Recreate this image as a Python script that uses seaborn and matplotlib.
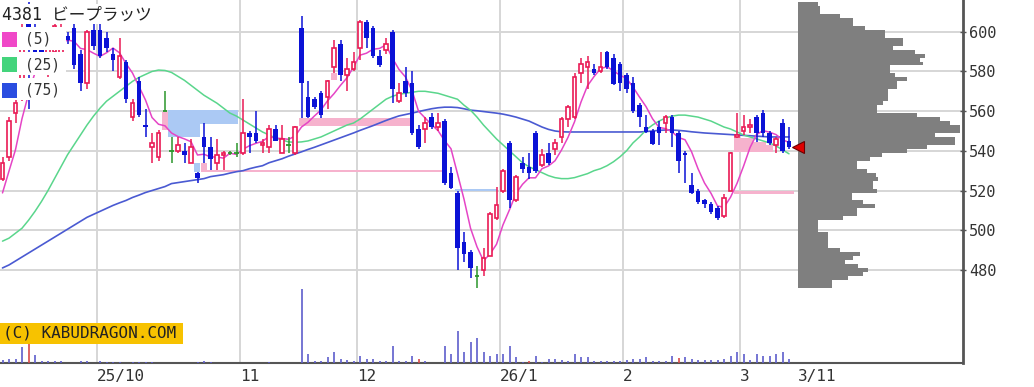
import numpy as np
import pandas as pd
import matplotlib
matplotlib.use("Agg")
import matplotlib.pyplot as plt
from matplotlib.patches import Rectangle
import seaborn as sns

# ---------------- data ----------------
title_text = "4381 ビープラッツ"
ma_labels = ["(5)", "(25)", "(75)"]
month_labels = ["25/10", "11", "12", "26/1", "2", "3"]
days_per_month = [15, 22, 18, 22, 19, 18, 8]   # trading days shown per month (Sep part .. Mar)
last_date_label = "3/11"
price_ticks = [480, 500, 520, 540, 560, 580, 600]

opens = [526, 537, 559, 566, 604, 600, 592, 580, 590, 588,
         598, 602, 589, 574, 601, 601, 597, 589, 577, 585,
         557, 575, 553, 542, 537, 560, 540, 540, 540, 534,
         529, 547, 542, 534, 538, 539, 539, 539, 549, 549,
         543, 542, 551, 539, 543, 539, 602, 567, 566, 569,
         567, 582, 594, 578, 581, 592, 605, 602, 588, 591,
         600, 565, 575, 574, 551, 551, 557, 552, 555, 529,
         519, 494, 489, 477, 480, 487, 506, 520, 544, 515,
         534, 532, 549, 533, 539, 541, 547, 556, 557, 579,
         582, 581, 580, 590, 587, 584, 578, 574, 563, 552,
         550, 552, 554, 557, 549, 539, 523, 520, 515, 513,
         511, 507, 520, 547, 550, 552, 557, 559, 549, 543,
         554, 545]
highs = [537, 557, 566, 606, 615, 604, 596, 594, 606, 604,
         600, 604, 591, 601, 604, 604, 600, 592, 597, 586,
         566, 577, 561, 549, 550.5, 570, 547, 547, 544, 546,
         529.3, 554, 547, 546, 540, 540, 544, 566, 550, 560,
         546, 553, 553, 553, 547, 552.5, 608, 575, 567, 570,
         575.7, 596, 596, 587, 590, 606, 606, 603, 591, 597,
         601, 574, 582, 580, 553, 557, 559, 559, 556, 532,
         519.8, 499, 490, 482, 491, 509, 522, 531, 545, 528,
         537, 539, 550, 541, 544, 546, 557, 563, 579, 587,
         588, 584, 590, 590.5, 589, 585, 579, 577, 564, 558,
         551, 555, 558, 558, 550, 540, 529, 521, 515.5, 514,
         512, 518.2, 539.5, 559, 558, 556, 558, 560.5, 550, 547,
         556, 552]
lows = [525, 535, 554, 565, 561, 586, 584, 577, 588, 586,
        594, 581, 570, 571, 591, 587, 590, 580, 576, 564,
        555, 557, 547, 534, 535, 560, 534, 539, 534, 534,
        524, 534, 530.2, 530.3, 530.3, 538, 537, 538, 539, 544,
        539, 539, 545, 539, 539, 538, 556.5, 556.5, 561, 556.5,
        561, 579, 575, 570, 580, 586, 592, 587, 582, 589,
        564, 564, 567, 548, 541, 544, 551, 550, 523, 520.6,
        480, 484, 476, 471, 477, 487, 505, 519, 511, 514,
        529, 526, 529, 532, 533, 538, 544, 552, 556, 574,
        571, 578, 579, 581, 573, 570, 569, 559, 552, 549,
        543, 543, 549, 542, 529, 524, 518, 513, 511, 508,
        505, 506, 519.8, 546.4, 548, 549, 544.4, 547, 543, 539,
        539, 541]
closes = [534, 555, 564, 598, 592, 588, 586, 592, 603, 602,
          596, 583, 574, 600, 593, 588, 592, 586, 588, 566,
          564, 558, 552, 544, 549, 560, 540, 543, 538, 542,
          526.5, 542, 536, 538, 539, 539, 539, 549, 547, 545,
          544, 551, 545, 546, 543, 552, 574, 557, 562, 558,
          575, 592, 578, 581, 585, 605, 597, 588, 583, 594,
          571, 569, 569, 549, 542, 554, 552, 554, 524, 521.2,
          491, 488, 481, 477, 486, 508, 512.6, 530, 515, 527,
          531, 529, 530, 538, 534, 544, 556, 562, 577, 584,
          585, 579, 582, 582, 573.5, 574, 571, 560, 557, 549.5,
          543.5, 549, 557, 549, 535, 538, 519, 514, 513, 509,
          506, 516, 539, 548, 552, 553, 549, 549, 544, 546,
          540, 542]
prior_closes = [500, 510, 520, 530]   # closes before the visible window (for the 5-day MA)

ma25 = [494.5, 496, 498.5, 501, 505, 509.5, 514.5, 520, 526, 532,
        538, 543, 548, 553, 557.5, 561.5, 565, 567.5, 570, 572.5,
        575, 577, 578.5, 580, 580.7, 580.5, 579.5, 577.5, 575.5, 573,
        570.5, 568, 566, 564, 561.5, 559, 557.5, 555.5, 553.5, 551.5,
        549.5, 548, 546.5, 545.5, 544.5, 544.3, 544.5, 545, 546, 547,
        548.5, 550, 551.5, 553, 554, 556, 558.5, 561, 563.5, 566,
        567.5, 568.5, 569, 569.5, 570, 570, 569.5, 569, 568, 567,
        566, 563, 560.5, 557, 553, 549.5, 546, 543, 540, 537,
        534, 532, 530.5, 529, 527.5, 526.5, 526, 526, 526.5, 527.5,
        528.5, 530, 531, 532.5, 534.5, 537, 540, 544, 547, 550.5,
        553, 555, 556.5, 557.5, 558, 558, 557.5, 557, 556, 555,
        553.5, 552, 551, 549.5, 548, 547, 546, 545, 544, 542.5,
        540.5, 538.5]
ma75 = [481, 482.5, 484.5, 486.5, 488.5, 490.5, 492.5, 494.5, 496.5, 498.5,
        500.5, 502.5, 504.5, 506.5, 508, 509.5, 511, 512.5, 513.8, 515,
        516.5, 517.7, 519, 520, 521, 522, 523.5, 524, 524.5, 525,
        525.5, 526, 527, 527.5, 528, 528.8, 529.5, 530, 531, 531.8,
        532.5, 534, 535, 536, 537.3, 538.4, 539.5, 540.7, 541.8, 543,
        544.2, 545.4, 546.6, 547.8, 549, 550.3, 551.5, 552.7, 554, 555.3,
        556.5, 557.6, 558.3, 559, 559.8, 560.5, 561.2, 561.7, 562, 562,
        561.8, 561.2, 560.5, 560.2, 559.8, 559.4, 559, 558.5, 557.8, 557,
        556, 555, 553.5, 552, 550.8, 550, 549.6, 549.5, 549.5, 549.5,
        549.5, 549.5, 549.5, 549.5, 549.5, 549.5, 549.5, 549.5, 549.5, 549.7,
        550, 550.3, 550.5, 550.5, 550.3, 550, 549.6, 549.3, 549, 548.8,
        548.6, 548.4, 548.2, 548, 547.8, 547.6, 547.4, 547.2, 547, 547,
        547, 547]

volumes = [33, 40, 43, 157, 217, 77, 17, 23, 17, 23,
           5, 5, 23, 23, 5, 23, 7, 7, 7, 5,
           7, 7, 7, 7, 5, 5, 5, 5, 5, 5,
           7, 23, 7, 5, 5, 5, 5, 5, 5, 5,
           5, 7, 5, 5, 5, 3, 740, 93, 17, 23,
           57, 107, 43, 33, 23, 73, 43, 43, 17, 23,
           173, 23, 23, 73, 43, 23, 3, 3, 173, 90,
           317, 107, 207, 250, 107, 73, 90, 93, 173, 57,
           7, 23, 73, 7, 40, 40, 33, 23, 90, 57,
           57, 23, 23, 23, 17, 23, 33, 40, 43, 57,
           23, 23, 17, 73, 50, 57, 43, 33, 33, 33,
           33, 43, 67, 107, 93, 33, 90, 73, 73, 93,
           107, 40]
red_volume_days = [4, 45, 64, 81, 104]

# price gaps ("windows") still open: start/end position, low/high price, up or down gap
win_start = [24.6, 25.5, 25.5, 29.5, 30.5, 31.5, 45.6, 50.6, 69.6, 112.6, 112.6, 115.5, 117.5]
win_end = [25.5, 30.4, 36.3, 30.4, 31.5, 67.6, 62.7, 51.4, 76.0, 121.7, 115.5, 117.5, 118.6]
win_low = [550.5, 547, 553.6, 529.3, 529.3, 529.3, 552.5, 575.7, 519.8, 518.2, 539.5, 539.5, 539.5]
win_high = [559.6, 553.6, 560.5, 534, 534, 530.2, 556.5, 579, 520.6, 519.8, 546.4, 544.4, 543]
win_up = [True, False, False, False, True, True, True, True, False, True, True, True, True]

# volume-by-price profile (2-yen bins: lower edge, relative volume)
profile_low = [471, 473, 475, 477, 479, 481, 483, 485, 487, 489,
               491, 493, 495, 497, 499, 501, 503, 505, 507, 509,
               511, 513, 515, 517, 519, 521, 523, 525, 527, 529,
               531, 533, 535, 537, 539, 541, 543, 545, 547, 549,
               551, 553, 555, 557, 559, 561, 563, 565, 567, 569,
               571, 573, 575, 577, 579, 581, 583, 585, 587, 589,
               591, 593, 595, 597, 599, 601, 603, 605, 607, 609,
               611, 613]
profile_vol = [34, 34, 50, 65, 70, 60, 47, 55, 62, 42,
               30, 30, 30, 30, 20, 20, 20, 45, 59, 59,
               77, 65, 54, 54, 79, 75, 75, 80, 78, 69,
               59, 59, 72, 84, 109, 129, 157, 157, 137, 162,
               162, 152, 142, 119, 79, 79, 85, 90, 90, 90,
               99, 99, 109, 97, 92, 92, 125, 122, 127, 117,
               95, 105, 105, 87, 87, 67, 55, 55, 42, 22,
               22, 20]

n = len(closes)
assert len(opens) == len(highs) == len(lows) == n
assert len(ma25) == len(ma75) == len(volumes) == n
assert len(profile_low) == len(profile_vol)
assert sum(days_per_month) == n

# ---------------- styling ----------------
sns.set_style("white")
UP = "#ea1a55"
DOWN = "#0b12d6"
EVEN = "#2b962b"
C_MA5, C_MA25, C_MA75 = "#e545c6", "#5ad68c", "#4a5ad2"
MONO = "DejaVu Sans Mono"
TXT = "#333333"

W, H = 1034, 387
plot_right, plot_bottom = 963, 363
step, first_px = 6.5, 2.5          # pixels per trading day, first candle centre

fig = plt.figure(figsize=(W / 100, H / 100), dpi=100)
fig.patch.set_facecolor("white")
ax = fig.add_axes([0, (H - plot_bottom) / H, plot_right / W, plot_bottom / H])
axv = ax.twinx()

idx = np.arange(n)
o, h, l, c = map(np.asarray, (opens, highs, lows, closes))
ymin, ymax = 433.1, 616.0
ax.set_xlim(-first_px / step, (plot_right - first_px) / step)
ax.set_ylim(ymin, ymax)

# grid
bounds = np.cumsum(days_per_month[:-1]) - 0.5
ax.set_xticks(bounds)
ax.set_xticklabels(month_labels, fontfamily=MONO, fontsize=11.5, color=TXT, ha="left")
ax.set_yticks(price_ticks)
ax.set_yticklabels([str(t) for t in price_ticks], fontfamily=MONO, fontsize=11, color=TXT)
ax.grid(True, color="#d6d6d6", lw=1.4, zorder=0)
ax.set_axisbelow(True)
for s in ("top", "left"):
    ax.spines[s].set_visible(False)
ax.spines["right"].set_color("#555555")
ax.spines["right"].set_linewidth(2)
ax.spines["bottom"].set_color("#555555")
ax.spines["bottom"].set_linewidth(1.5)

# gap windows
for s0, s1, lo, hi, up in zip(win_start, win_end, win_low, win_high, win_up):
    ax.bar(s0, hi - lo, bottom=lo, width=s1 - s0, align="edge",
           color="#f6b2cd" if up else "#abc9f4", linewidth=0, zorder=2)

# moving averages
ma5 = pd.Series(prior_closes + closes).rolling(5).mean().to_numpy()[len(prior_closes):]
df_ma = pd.DataFrame({"i": idx, "ma5": ma5, "ma25": ma25, "ma75": ma75})
sns.lineplot(data=df_ma, x="i", y="ma75", ax=ax, color=C_MA75, lw=1.2, zorder=3)
sns.lineplot(data=df_ma, x="i", y="ma25", ax=ax, color=C_MA25, lw=1.1, zorder=3)
sns.lineplot(data=df_ma, x="i", y="ma5", ax=ax, color=C_MA5, lw=1.1, zorder=3)
ax.set_xlabel("")
ax.set_ylabel("")

# candles
up = c > o
dn = c < o
ev = c == o
wick_col = np.where(up, UP, np.where(dn, DOWN, EVEN))
ax.vlines(idx, l, h, colors=list(wick_col), lw=1.1, zorder=4)
ax.bar(idx[up], np.maximum(c[up] - o[up], 0.5), bottom=o[up], width=0.58,
       facecolor="white", edgecolor=UP, linewidth=1.2, zorder=5)
ax.bar(idx[dn], np.maximum(o[dn] - c[dn], 0.6), bottom=c[dn], width=0.72,
       color=DOWN, linewidth=0, zorder=5)
ax.hlines(c[ev], idx[ev] - 0.38, idx[ev] + 0.38, colors=EVEN, lw=1.3, zorder=5)

# volume
vol_col = ["#d84a4a" if i in red_volume_days else "#5e5ecc" for i in idx]
axv.vlines(idx, 0, volumes, colors=vol_col, lw=1.2)
axv.set_ylim(0, plot_bottom * 10)
axv.set_axis_off()

# y axis on the right (after twinx)
ax.yaxis.tick_right()
ax.tick_params(axis="x", length=0, pad=4)
ax.tick_params(axis="y", direction="inout", length=5, width=1, color="#555555", pad=2,
               left=False, labelleft=False, right=True, labelright=True)

# volume profile
prof_left = 798
axp = fig.add_axes([prof_left / W, (H - plot_bottom) / H, (plot_right - prof_left) / W, plot_bottom / H])
axp.patch.set_alpha(0)
axp.set_xlim(0, plot_right - prof_left)
axp.set_ylim(ymin, ymax)
axp.barh(profile_low, profile_vol, height=2, align="edge", color="#7f7f7f", linewidth=0)
axp.plot([0], [closes[-1]], marker="<", ms=8, mfc="#e00000", mec="#6a0000", mew=0.8,
         clip_on=False, zorder=6)
for s in axp.spines.values():
    s.set_visible(False)
axp.set_yticks([])
axp.set_xticks([0])
axp.set_xticklabels([last_date_label], fontfamily=MONO, fontsize=11.5, color=TXT, ha="left")
axp.tick_params(axis="x", length=0, pad=4)

# overlay: legend and copyright
ov = fig.add_axes([0, 0, 1, 1])
ov.set_xlim(0, W)
ov.set_ylim(H, 0)
ov.set_axis_off()
ov.patch.set_alpha(0)
ov.add_patch(Rectangle((0, 4), 158, 20, color="white", lw=0))
ov.text(2, 14.5, title_text, fontfamily=[MONO, "Noto Sans CJK JP"], fontsize=12,
        color="#222222", va="center", ha="left")
for k, (lab, col) in enumerate(zip(ma_labels, ["#f048c8", "#44d47c", "#2a4de0"])):
    y0 = 27 + 25.3 * k
    ov.add_patch(Rectangle((0, y0), 66, 22.5, color="white", lw=0))
    ov.add_patch(Rectangle((2, y0 + 5), 15, 15, color=col, lw=0))
    ov.text(25, y0 + 12.5, lab, fontfamily=MONO, fontsize=10.5, color=TXT, va="center", ha="left")

ov.add_patch(Rectangle((0, 323), 183, 21, color="#f7c200", lw=0))
ov.text(3, 333.5, "(C) KABUDRAGON.COM", fontfamily=MONO, fontsize=11.5, color="#222222",
        va="center", ha="left")

fig.savefig("out.png", dpi=100, facecolor="white")
